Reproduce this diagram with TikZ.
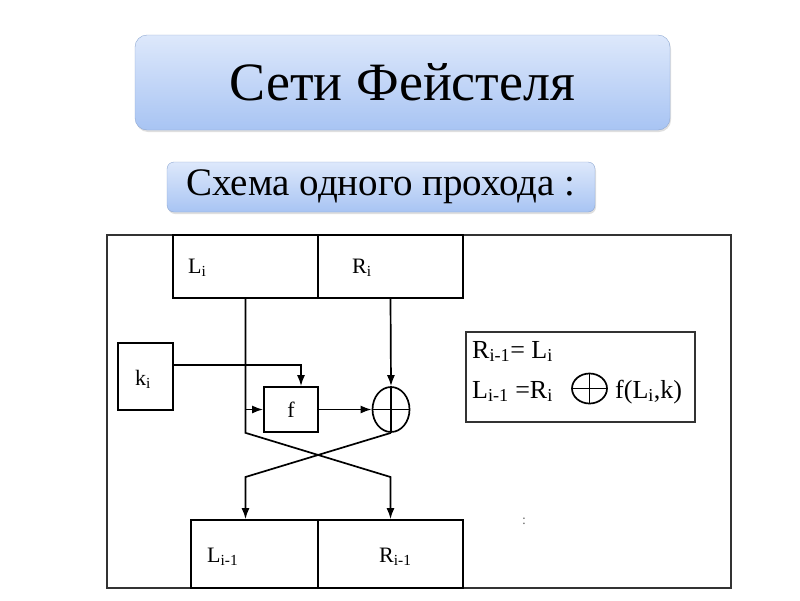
\documentclass[tikz,border=0pt]{standalone}
\usepackage{fontspec}
\setmainfont{Liberation Serif}
\usetikzlibrary{arrows.meta, shapes.geometric, shadows}
\definecolor{boxtop}{HTML}{DDE8FB}
\definecolor{boxbot}{HTML}{A8C4F3}
\definecolor{boxline}{HTML}{8EA8D2}

\begin{document}
\begin{tikzpicture}[x=1pt, y=-1pt, >={Latex[length=11pt,width=8pt]},
    head/.style={draw=boxline, rounded corners=12pt, top color=boxtop, bottom color=boxbot,
        drop shadow={opacity=0.25, shadow xshift=1pt, shadow yshift=-2pt}},
    cell/.style={draw, line width=1.7pt, inner sep=0pt},
    lbl/.style={anchor=base west, inner sep=0pt, font=\fontsize{22}{26}\selectfont},
    frm/.style={anchor=base west, inner sep=0pt, font=\fontsize{26}{30}\selectfont},
    xorsym/.style={draw, ellipse, line width=1.7pt, inner sep=0pt},
    wire/.style={line width=1.7pt}]
    \useasboundingbox (0,0) rectangle (800,600);

    % Titles
    \node[head, minimum width=535pt, minimum height=95pt, font=\fontsize{54}{60}\selectfont] (title) at (402.5, 82.5) {Сети Фейстеля};
    \node[head, rounded corners=7pt, minimum width=428pt, minimum height=50pt, font=\fontsize{39}{44}\selectfont] (subtitle) at (381, 187) {Схема одного прохода :};

    % Frame
    \draw[line width=2.2pt, black!80] (107, 235) rectangle (731, 588);

    % Round input and output halves
    \node[cell, minimum width=145pt, minimum height=63pt] (Li) at (245.5, 266.5) {};
    \node[cell, minimum width=145pt, minimum height=63pt] (Ri) at (390.5, 266.5) {};
    \node[cell, minimum width=127pt, minimum height=68pt] (Li1) at (254.5, 554) {};
    \node[cell, minimum width=145pt, minimum height=68pt] (Ri1) at (390.5, 554) {};
    \node[lbl] (tLi) at (188, 273) {L\textsubscript{i}};
    \node[lbl] (tRi) at (352, 273) {R\textsubscript{i}};
    \node[lbl] (tLi1) at (207, 562) {L\textsubscript{i-1}};
    \node[lbl] (tRi1) at (379, 562) {R\textsubscript{i-1}};

    % Key, round function and xor
    \node[cell, minimum width=55pt, minimum height=67pt] (ki) at (145.5, 376.5) {};
    \node[lbl] (tki) at (135, 385) {k\textsubscript{i}};
    \node[cell, minimum width=54pt, minimum height=45pt, font=\fontsize{22}{26}\selectfont] (f) at (291, 409.5) {f};
    \node[xorsym, minimum width=37pt, minimum height=45pt] (xor) at (391, 409.5) {};
    \draw[wire] (xor.north) -- (xor.south) (xor.west) -- (xor.east);

    \draw[->, wire] (Ri.south) -- (xor.north);
    \draw[->, wire] ([yshift=11.5pt]ki.east) -| ([xshift=10pt]f.north);
    \draw[->, wire] (Li.south |- f.west) -- (f.west);
    \draw[->, wire] (f.east) -- (xor.west);
    \draw[->, wire] (Li.south) -- (Li.south |- xor.south) -- (Ri1.north |- 0,477) -- (Ri1.north);
    \draw[->, wire] (xor.south) -- (Li.south |- 0,477) -- (Li.south |- Li1.north);

    % Formulas
    \node[cell, line width=2.2pt, draw=black!80, minimum width=229pt, minimum height=90pt] (eqbox) at (580.5, 377) {};
    \node[frm] (eq1) at (472, 358) {R\textsubscript{i-1}= L\textsubscript{i}};
    \node[frm] (eq2) at (472, 398) {L\textsubscript{i-1} =R\textsubscript{i}};
    \node[xorsym, minimum width=35pt, minimum height=30pt] (xor2) at (589.5, 388.5) {};
    \draw[wire] (xor2.north) -- (xor2.south) (xor2.west) -- (xor2.east);
    \node[frm] (eq3) at (615, 398) {f(L\textsubscript{i},k)};

    \node[black!60, font=\fontsize{14}{16}\selectfont] (dots) at (524, 521) {:};
\end{tikzpicture}
\end{document}
